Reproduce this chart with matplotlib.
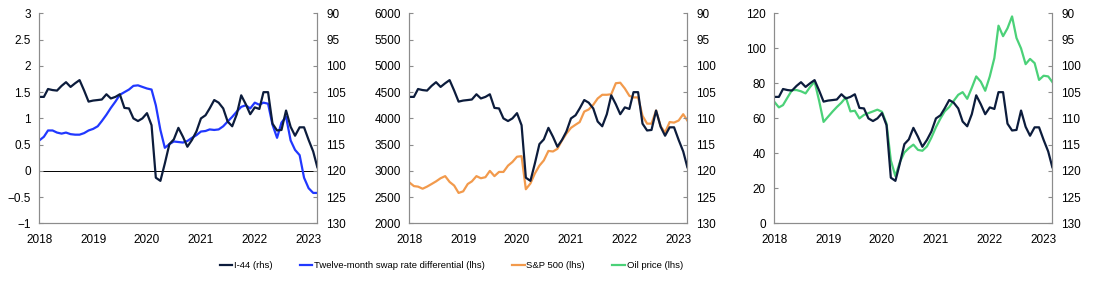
import pandas as pd
import matplotlib.pyplot as plt
import matplotlib.ticker as mticker

plt.rcParams['font.family'] = ['Liberation Sans', 'DejaVu Sans']
plt.rcParams['font.size'] = 8.5

dates = pd.date_range('2018-01-01', periods=63, freq='MS')
year_ticks = pd.date_range('2018-01-01', '2023-01-01', freq='YS')

# I-44, right axis (inverted)
i44 = [105.9, 105.9, 104.4, 104.6, 104.7, 103.8, 103.1, 104.0, 103.3, 102.7,
       104.7, 106.8, 106.6, 106.5, 106.4, 105.4, 106.2, 105.9, 105.4, 108.0,
       108.1, 110.0, 110.5, 110.0, 109.0, 111.3, 121.3, 121.9, 118.6, 114.9,
       114.0, 111.8, 113.5, 115.4, 114.1, 112.5, 110.0, 109.4, 108.1, 106.5,
       107.0, 108.1, 110.6, 111.5, 109.2, 105.6, 107.3, 109.2, 107.9, 108.2,
       105.0, 105.0, 111.0, 112.3, 112.2, 108.5, 111.6, 113.3, 111.7, 111.7,
       114.1, 116.3, 119.3]

swap_diff = [0.58, 0.65, 0.77, 0.77, 0.73, 0.71, 0.73, 0.70, 0.69, 0.69,
             0.72, 0.77, 0.80, 0.85, 0.95, 1.07, 1.20, 1.32, 1.45, 1.50,
             1.55, 1.62, 1.63, 1.60, 1.57, 1.55, 1.25, 0.78, 0.44, 0.51,
             0.56, 0.55, 0.54, 0.57, 0.63, 0.68, 0.75, 0.76, 0.79, 0.78,
             0.79, 0.85, 0.94, 1.03, 1.13, 1.22, 1.25, 1.19, 1.30, 1.26,
             1.30, 1.28, 0.88, 0.63, 0.92, 1.03, 0.58, 0.40, 0.30, -0.13,
             -0.33, -0.42, -0.42]

sp500 = [2780, 2710, 2700, 2660, 2700, 2750, 2800, 2860, 2900, 2790,
         2720, 2580, 2610, 2750, 2800, 2900, 2860, 2880, 3000, 2900,
         2980, 2980, 3100, 3170, 3270, 3280, 2650, 2760, 2950, 3100,
         3200, 3380, 3370, 3420, 3580, 3710, 3820, 3880, 3930, 4130,
         4170, 4260, 4380, 4450, 4450, 4460, 4670, 4680, 4570, 4430,
         4400, 4400, 4050, 3900, 3900, 4150, 3850, 3730, 3930, 3920,
         3960, 4080, 3960]

oil = [69.5, 66.3, 67.6, 72, 76.2, 76.2, 75.5, 74.3, 78, 81,
       70, 58, 61, 64, 66.5, 69, 72, 64, 64.4, 60,
       62, 63, 64, 65, 63.8, 57, 36, 27, 35, 40.5,
       43, 45, 42, 41.5, 44, 49, 55, 60, 64, 66.5,
       70, 73.5, 75, 71.2, 77.5, 84, 81, 75.8, 84, 94.5,
       113, 107, 111.5, 118.3, 106, 100, 91, 94, 91.6, 82,
       84.4, 84, 80.8]

navy = '#0c1c3c'
blue = '#2138ff'
orange = '#f29a4c'
green = '#4bd178'
grey = '#8c8c8c'


def fmt(v, pos):
    s = '{:g}'.format(v)
    return s.replace('-', '\u2212')


def panel(left, series, color, label, ylim, ystep):
    ax = fig.add_axes([left, 0.219, 0.2532, 0.734])
    ax.plot(dates, series, color=color, lw=1.6, label=label)
    ax.set_ylim(*ylim)
    ax.yaxis.set_major_locator(mticker.MultipleLocator(ystep))
    ax.yaxis.set_major_formatter(mticker.FuncFormatter(fmt))
    ax.set_xlim(dates[0], dates[-1])
    ax.set_xticks(year_ticks)
    ax.set_xticklabels([str(d.year) for d in year_ticks])
    ax.spines['top'].set_visible(False)
    for s in ['left', 'right', 'bottom']:
        ax.spines[s].set_color(grey)
        ax.spines[s].set_linewidth(0.8)
    ax.tick_params(axis='y', direction='in', length=3, color=grey, pad=6)
    ax.tick_params(axis='x', direction='out', length=0, pad=8)

    ax2 = ax.twinx()
    ax2.plot(dates, i44, color=navy, lw=1.6, label='I-44 (rhs)')
    ax2.set_ylim(130, 90)
    ax2.yaxis.set_major_locator(mticker.MultipleLocator(5))
    ax2.spines['top'].set_visible(False)
    for s in ['left', 'right', 'bottom']:
        ax2.spines[s].set_color(grey)
        ax2.spines[s].set_linewidth(0.8)
    ax2.tick_params(axis='y', direction='in', length=3, color=grey, pad=6.5)
    return ax, ax2


fig = plt.figure(figsize=(10.98, 2.86), dpi=100)

ax1, r1 = panel(0.0358, swap_diff, blue, 'Twelve-month swap rate differential (lhs)', (-1, 3), 0.5)
ax1.axhline(0, color='black', lw=0.7, zorder=1)
ax2, r2 = panel(0.3728, sp500, orange, 'S&P 500 (lhs)', (2000, 6000), 500)
ax3, r3 = panel(0.7052, oil, green, 'Oil price (lhs)', (0, 120), 20)

handles = [r1.get_lines()[0], ax1.get_lines()[0], ax2.get_lines()[0], ax3.get_lines()[0]]
labels = [h.get_label() for h in handles]
fig.legend(handles, labels, loc='center', bbox_to_anchor=(0.411, 0.07), ncol=4,
           frameon=False, fontsize=6.8, handlelength=1.3, handletextpad=0.2,
           columnspacing=2.9)

fig.savefig('out.png', dpi=100)
